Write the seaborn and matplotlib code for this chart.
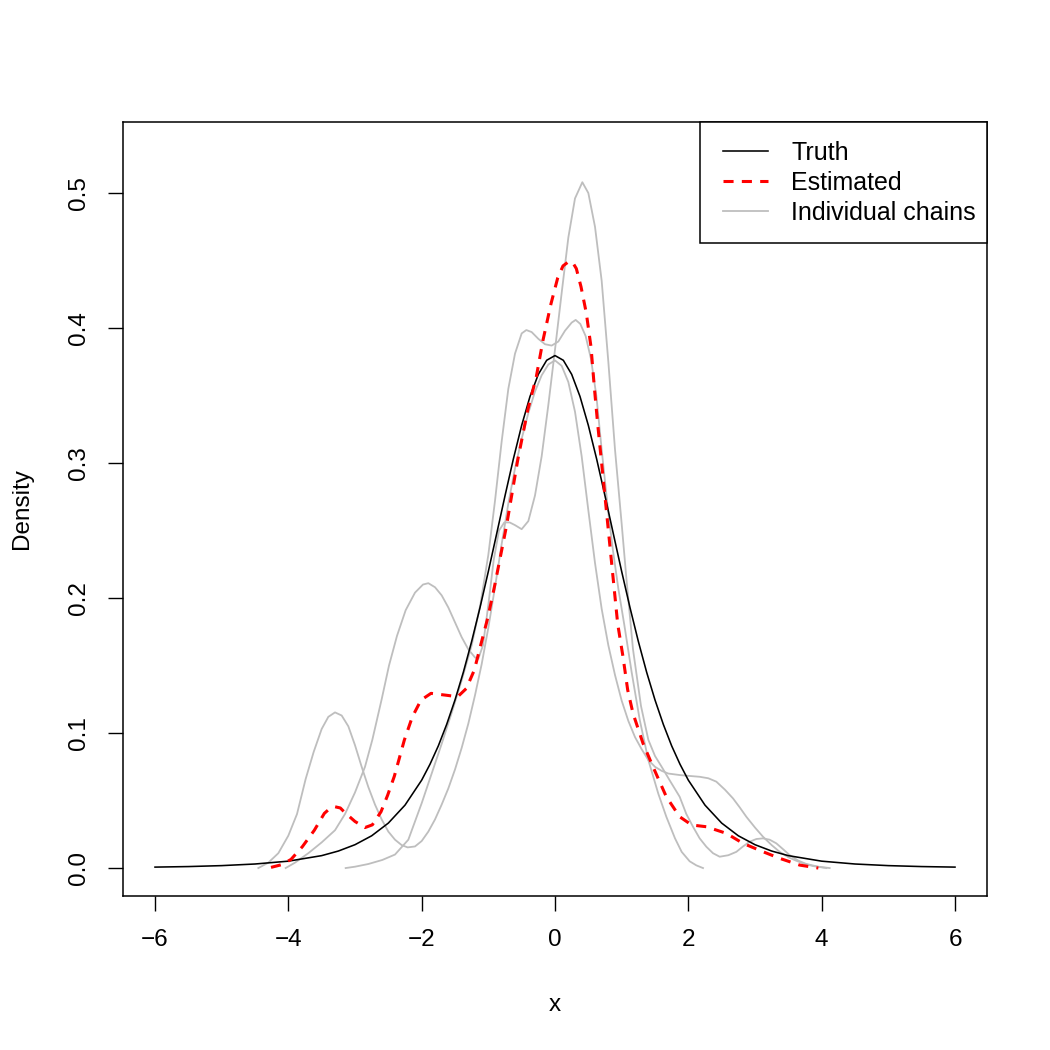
import matplotlib
matplotlib.use("Agg")
import matplotlib.pyplot as plt
from matplotlib.patches import Rectangle
import seaborn as sns

# ---- data ----
truth_x = [-6, -5.5, -5, -4.5, -4, -3.5, -3.25, -3, -2.75, -2.5, -2.25, -2, -1.875, -1.75, -1.625, -1.5,
           -1.375, -1.25, -1.125, -1, -0.875, -0.75, -0.625, -0.5, -0.375, -0.25, -0.125, 0,
           0.125, 0.25, 0.375, 0.5, 0.625, 0.75, 0.875, 1, 1.125, 1.25, 1.375, 1.5, 1.625, 1.75,
           1.875, 2, 2.25, 2.5, 2.75, 3, 3.25, 3.5, 4, 4.5, 5, 5.5, 6]
truth_y = [0.0007, 0.0011, 0.0018, 0.0030, 0.0051, 0.0092, 0.0126, 0.0173, 0.0239, 0.0333, 0.0466, 0.0651,
           0.0769, 0.0905, 0.1064, 0.1245, 0.1450, 0.1679, 0.1929, 0.2197, 0.2476, 0.2757, 0.3029, 0.3279,
           0.3493, 0.3657, 0.3761, 0.3796, 0.3761, 0.3657, 0.3493, 0.3279, 0.3029, 0.2757, 0.2476, 0.2197,
           0.1929, 0.1679, 0.1450, 0.1245, 0.1064, 0.0905, 0.0769, 0.0651, 0.0466, 0.0333, 0.0239, 0.0173,
           0.0126, 0.0092, 0.0051, 0.0030, 0.0018, 0.0011, 0.0007]

est_x = [-4.26, -4.1, -3.96, -3.79, -3.61, -3.46, -3.38, -3.3, -3.22, -3.15, -3.0, -2.85, -2.74, -2.61,
         -2.51, -2.41, -2.26, -2.14, -2.01, -1.86, -1.63, -1.46, -1.33, -1.21, -1.11, -1.01, -0.91, -0.73,
         -0.56, -0.41, -0.28, -0.18, -0.06, 0.04, 0.12, 0.2, 0.26, 0.32, 0.39, 0.47, 0.54, 0.59, 0.64,
         0.74, 0.84, 0.94, 1.02, 1.09, 1.17, 1.32, 1.47, 1.67, 1.87, 2.05, 2.27, 2.57, 2.82, 3.12, 3.37,
         3.67, 3.95]
est_y = [0.0005, 0.0025, 0.0064, 0.0158, 0.028, 0.0405, 0.044, 0.0454, 0.0445, 0.041, 0.0345, 0.030,
         0.032, 0.0417, 0.054, 0.068, 0.0948, 0.112, 0.1244, 0.1294, 0.128, 0.1269, 0.133, 0.1467, 0.166,
         0.185, 0.208, 0.2528, 0.302, 0.339, 0.364, 0.391, 0.418, 0.437, 0.446, 0.449, 0.449, 0.444,
         0.4306, 0.411, 0.386, 0.356, 0.329, 0.280, 0.2306, 0.181, 0.1565, 0.132, 0.1146, 0.0924, 0.075,
         0.0528, 0.038, 0.0319, 0.0306, 0.0257, 0.0183, 0.0121, 0.0072, 0.0022, 0.0]

# chain with the hump near -3.3
chain1_x = [-4.45, -4.3, -4.15, -4.0, -3.87, -3.74, -3.62, -3.5, -3.4, -3.3, -3.2, -3.1, -3.0, -2.9,
            -2.8, -2.7, -2.6, -2.5, -2.4, -2.3, -2.21, -2.1, -2.0, -1.9, -1.8, -1.7, -1.6, -1.5, -1.4,
            -1.3, -1.2, -1.1, -1.0, -0.9, -0.8, -0.7, -0.6, -0.5, -0.4, -0.3, -0.2, -0.1, 0.0, 0.1, 0.2,
            0.3, 0.4, 0.5, 0.6, 0.7, 0.8, 0.9, 1.0, 1.1, 1.2, 1.3, 1.4, 1.5, 1.6, 1.7, 1.87, 2.0, 2.17,
            2.3, 2.42, 2.55, 2.67, 2.77, 2.87, 3.0, 3.12, 3.25, 3.37, 3.5, 3.62, 3.75, 3.87, 4.07]
chain1_y = [0.0, 0.004, 0.011, 0.024, 0.040, 0.066, 0.086, 0.103, 0.112, 0.1153, 0.113, 0.105, 0.091,
            0.075, 0.060, 0.047, 0.036, 0.027, 0.021, 0.017, 0.0153, 0.016, 0.020, 0.027, 0.036, 0.047,
            0.059, 0.073, 0.089, 0.107, 0.128, 0.151, 0.178, 0.208, 0.240, 0.270, 0.296, 0.318, 0.337,
            0.353, 0.365, 0.373, 0.376, 0.372, 0.360, 0.338, 0.305, 0.265, 0.226, 0.192, 0.165, 0.143,
            0.124, 0.109, 0.097, 0.088, 0.080, 0.075, 0.072, 0.070, 0.0689, 0.0683, 0.0676, 0.0665,
            0.064, 0.058, 0.0516, 0.045, 0.038, 0.030, 0.0232, 0.017, 0.012, 0.008, 0.0054, 0.003,
            0.0015, 0.0]

# chain with the hump near -1.9 and the tallest peak
chain2_x = [-4.04, -3.9, -3.7, -3.5, -3.3, -3.15, -3.0, -2.85, -2.74, -2.6, -2.49, -2.37, -2.24, -2.1,
            -1.98, -1.9, -1.8, -1.7, -1.6, -1.5, -1.4, -1.3, -1.2, -1.15, -1.08, -1.0, -0.92, -0.84,
            -0.76, -0.68, -0.6, -0.5, -0.4, -0.3, -0.2, -0.1, 0.0, 0.1, 0.2, 0.3, 0.41, 0.5, 0.6, 0.7,
            0.8, 0.9, 1.0, 1.07, 1.17, 1.29, 1.4, 1.5, 1.6, 1.72, 1.87, 1.97, 2.07, 2.17, 2.27, 2.37,
            2.47, 2.6, 2.72, 2.82, 2.92, 3.02, 3.12, 3.22, 3.32, 3.42, 3.52, 3.65, 3.77, 3.95, 4.12]
chain2_y = [0.0, 0.004, 0.011, 0.019, 0.028, 0.040, 0.056, 0.075, 0.095, 0.125, 0.150, 0.172, 0.191,
            0.204, 0.210, 0.211, 0.208, 0.202, 0.193, 0.182, 0.171, 0.162, 0.156, 0.155, 0.165, 0.195,
            0.228, 0.250, 0.256, 0.256, 0.254, 0.251, 0.257, 0.276, 0.305, 0.343, 0.384, 0.426, 0.467,
            0.496, 0.508, 0.500, 0.475, 0.435, 0.375, 0.310, 0.255, 0.215, 0.162, 0.120, 0.095, 0.083,
            0.075, 0.065, 0.0528, 0.040, 0.0306, 0.022, 0.0158, 0.011, 0.0084, 0.0095, 0.012, 0.016,
            0.0195, 0.0215, 0.022, 0.021, 0.0183, 0.014, 0.0096, 0.0055, 0.003, 0.001, 0.0]

# chain with the double peak
chain3_x = [-3.14, -3.0, -2.8, -2.59, -2.4, -2.2, -2.0, -1.85, -1.7, -1.55, -1.4, -1.25, -1.12, -1.0,
            -0.9, -0.8, -0.7, -0.6, -0.5, -0.43, -0.35, -0.25, -0.15, -0.05, 0.05, 0.15, 0.25, 0.31,
            0.38, 0.46, 0.54, 0.62, 0.7, 0.8, 0.87, 0.95, 1.04, 1.15, 1.27, 1.4, 1.55, 1.67, 1.8, 1.9,
            2.02, 2.12, 2.22]
chain3_y = [0.0, 0.001, 0.003, 0.006, 0.010, 0.021, 0.048, 0.070, 0.092, 0.115, 0.139, 0.165, 0.195,
            0.232, 0.272, 0.316, 0.355, 0.381, 0.396, 0.3985, 0.397, 0.392, 0.388, 0.387, 0.390, 0.398,
            0.404, 0.406, 0.403, 0.394, 0.377, 0.350, 0.310, 0.263, 0.235, 0.207, 0.180, 0.145, 0.110,
            0.080, 0.055, 0.038, 0.022, 0.012, 0.005, 0.002, 0.0]

chains = [(chain1_x, chain1_y), (chain2_x, chain2_y), (chain3_x, chain3_y)]
legend_labels = ["Truth", "Estimated", "Individual chains"]

# ---- figure ----
FONT = ['Liberation Sans', 'DejaVu Sans']
plt.rcParams['font.family'] = FONT
W = 1050
fig = plt.figure(figsize=(10.5, 10.5), dpi=100)
ax = fig.add_axes([123 / W, 154 / W, 864 / W, 774 / W])

for i, (cx, cy) in enumerate(chains):
    sns.lineplot(x=cx, y=cy, ax=ax, color="#BEBEBE", linewidth=1.3, sort=False,
                 label=legend_labels[2] if i == 0 else "_nolegend_", estimator=None)
sns.lineplot(x=truth_x, y=truth_y, ax=ax, color="black", linewidth=1.15, sort=False,
             label=legend_labels[0], estimator=None)
sns.lineplot(x=est_x, y=est_y, ax=ax, color="red", linewidth=2.2, sort=False,
             label=legend_labels[1], estimator=None, linestyle=(0, (3.3, 2.7)))

ax.set_xlim(-6.48, 6.48)
ax.set_ylim(-0.0207, 0.5526)
ax.set_xticks([-6, -4, -2, 0, 2, 4, 6])
ax.set_xticklabels(["\u22126", "\u22124", "\u22122", "0", "2", "4", "6"], fontsize=17.5)
ax.set_yticks([0.0, 0.1, 0.2, 0.3, 0.4, 0.5])
ax.set_yticklabels(["0.0", "0.1", "0.2", "0.3", "0.4", "0.5"], fontsize=17.5, rotation=90, va="center")
ax.tick_params(axis="both", direction="out", length=11, width=1, color="black")
ax.tick_params(axis="x", pad=13)
ax.tick_params(axis="y", pad=13)
for s in ax.spines.values():
    s.set_linewidth(1.1)
    s.set_color("black")
ax.set_xlabel("x", fontsize=17.5, labelpad=31)
ax.set_ylabel("Density", fontsize=17.5, labelpad=25)

# legend: entries without frame, box drawn separately (R style padding)
h, l = ax.get_legend_handles_labels()
order = [l.index(t) for t in legend_labels]
leg = ax.legend([h[i] for i in order], [l[i] for i in order], loc="upper left",
                bbox_to_anchor=(700 / W, 1 - 118 / W), bbox_transform=fig.transFigure,
                borderaxespad=0, frameon=False, handlelength=1.8, handletextpad=0.92,
                borderpad=0.92, labelspacing=0.24, prop={'family': FONT, 'size': 18})
box = Rectangle((700 / W, 1 - 243 / W), 287 / W, 121 / W, transform=fig.transFigure,
                facecolor="white", edgecolor="black", linewidth=1.1, zorder=4.5, clip_on=False)
ax.add_patch(box)
leg.set_zorder(5)

fig.savefig("out.png", dpi=100, facecolor="white")
